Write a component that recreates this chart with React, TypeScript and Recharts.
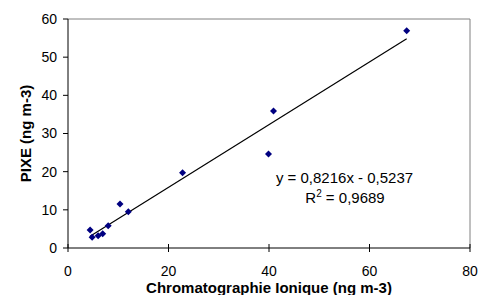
import React from "react";
import { ScatterChart, Scatter, XAxis, YAxis, ReferenceLine } from "recharts";

const ionicChromatography = [4.4, 4.8, 6.0, 6.9, 8.0, 10.35, 12.0, 22.8, 39.9, 40.9, 67.4];
const pixe = [4.7, 2.8, 3.2, 3.75, 5.85, 11.5, 9.5, 19.7, 24.6, 35.9, 56.9];
const xTicks = [0, 20, 40, 60, 80];
const yTicks = [0, 10, 20, 30, 40, 50, 60];
const slope = 0.8216;
const intercept = -0.5237;

const points = ionicChromatography.map((x, i) => ({ x, y: pixe[i] }));
const xMin = Math.min(...ionicChromatography);
const xMax = Math.max(...ionicChromatography);
const trend = [
  { x: xMin, y: slope * xMin + intercept },
  { x: xMax, y: slope * xMax + intercept },
];

const FONT = "'Liberation Sans', Arial, sans-serif";

const Diamond = (p: any) => {
  const { cx, cy } = p;
  const h = 3.5;
  return (
    <polygon
      points={`${cx},${cy - h} ${cx + h},${cy} ${cx},${cy + h} ${cx - h},${cy}`}
      fill="#000080"
    />
  );
};

const XTick = (p: any) => {
  const { x, y, payload } = p;
  const axisY = y - 18;
  return (
    <g>
      <line x1={x} x2={x} y1={axisY - 4} y2={axisY + 4} stroke="#000" />
      <text x={x} y={y} dy="0.71em" textAnchor="middle" fontSize={14} fontFamily={FONT} fill="#000">
        {payload.value}
      </text>
    </g>
  );
};

export default function App() {
  return (
    <div style={{ position: "absolute", left: 0, top: 0, width: 480, height: 295, background: "#fff" }}>
      <ScatterChart width={480} height={295} margin={{ top: 19, right: 10, bottom: 0, left: 0 }}>
        <XAxis
          type="number"
          dataKey="x"
          domain={[0, 80]}
          ticks={xTicks}
          tickSize={4}
          tickMargin={14}
          tickLine={false}
          tick={<XTick />}
          stroke="#000"
          height={47}
          allowDataOverflow
          label={{
            content: (props: any) => {
              const vb = props.viewBox;
              return (
                <text x={vb.x + vb.width / 2} y={vb.y + 45} textAnchor="middle" fontSize={15} fontWeight="bold" fontFamily={FONT} fill="#000">
                  Chromatographie Ionique (ng m-3)
                </text>
              );
            },
          }}
        />
        <YAxis
          type="number"
          dataKey="y"
          domain={[0, 60]}
          ticks={yTicks}
          tickSize={5}
          tickMargin={6}
          stroke="#000"
          width={68}
          allowDataOverflow
          tick={{ fontSize: 14, fontFamily: FONT, fill: "#000" }}
          label={{
            content: (props: any) => {
              const vb = props.viewBox;
              const cx = 31;
              const cy = vb.y + vb.height / 2;
              return (
                <text x={cx} y={cy} transform={`rotate(-90 ${cx} ${cy})`} textAnchor="middle" fontSize={15} fontWeight="bold" fontFamily={FONT} fill="#000">
                  PIXE (ng m-3)
                </text>
              );
            },
          }}
        />
        <ReferenceLine y={60} stroke="#808080" />
        <ReferenceLine x={80} stroke="#808080" />
        <ReferenceLine segment={trend} stroke="#000" strokeWidth={1.2} />
        <Scatter data={points} shape={<Diamond />} isAnimationActive={false} />
        <text x={344.5} y={183} textAnchor="middle" fontSize={15} fontFamily={FONT} fill="#000">
          y = 0,8216x - 0,5237
        </text>
        <text x={345} y={203} textAnchor="middle" fontSize={15} fontFamily={FONT} fill="#000">
          R<tspan fontSize={10} dy={-6}>2</tspan><tspan dy={6}> = 0,9689</tspan>
        </text>
      </ScatterChart>
    </div>
  );
}
